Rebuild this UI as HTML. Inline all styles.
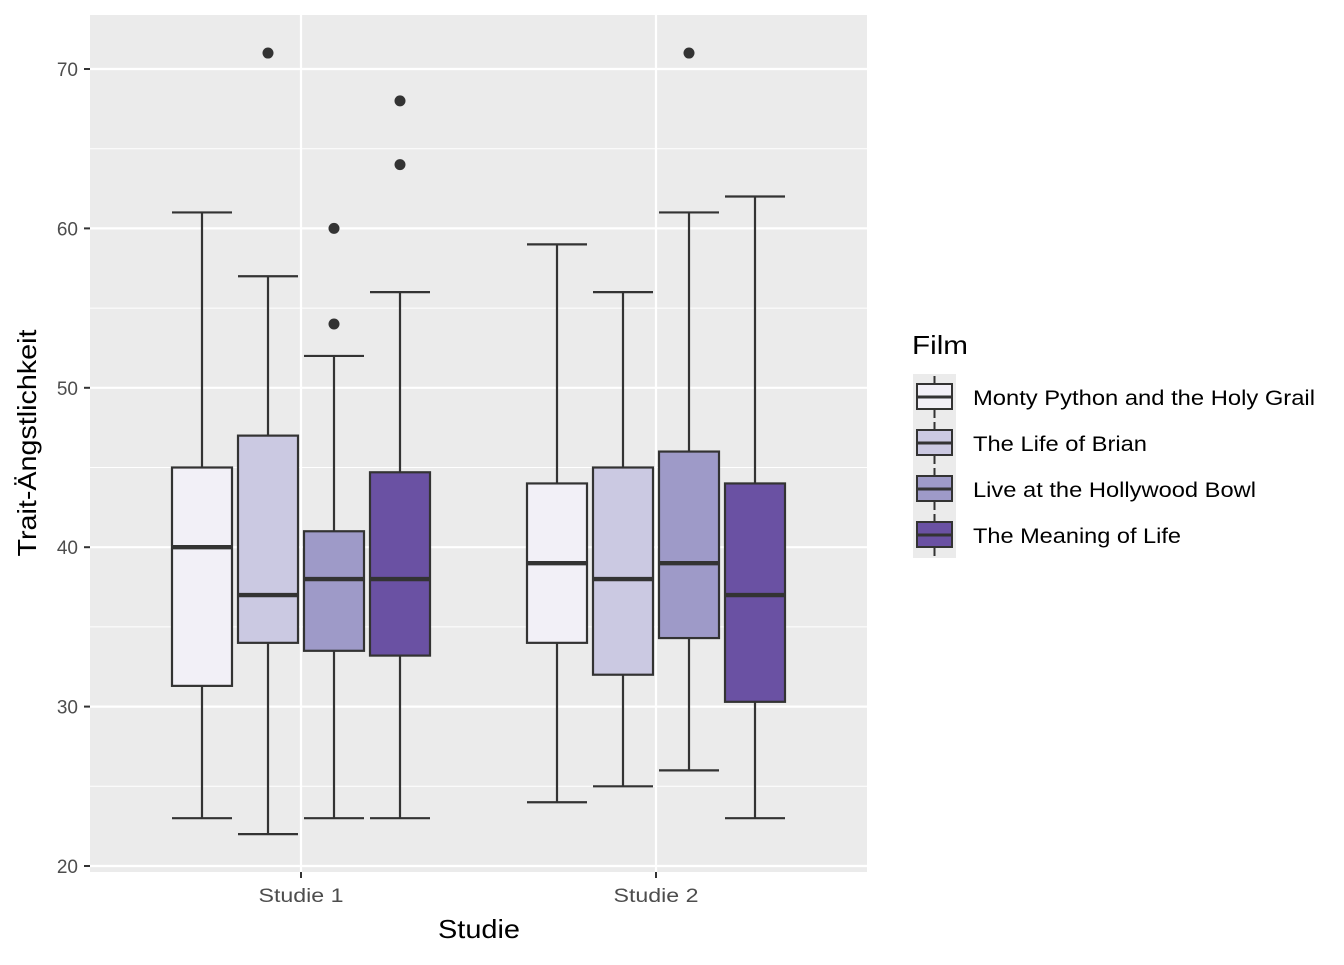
<!DOCTYPE html>
<html><head><meta charset="utf-8"><style>
body{margin:0;background:#fff;}
svg text{font-family:"Liberation Sans",sans-serif;}
</style></head><body>
<svg id="chart" width="1344" height="960" xmlns="http://www.w3.org/2000/svg">
<rect x="90" y="15" width="777" height="857" fill="#ebebeb"/>
<g id="grid"></g>
<g id="boxes"></g>
<g id="axes"></g>
<text x="479" y="938" font-size="26" text-anchor="middle" fill="#000" textLength="82" lengthAdjust="spacingAndGlyphs">Studie</text>
<text transform="translate(36,443) rotate(-90)" font-size="26" text-anchor="middle" fill="#000" textLength="227" lengthAdjust="spacingAndGlyphs">Trait-Ängstlichkeit</text>
<g id="legend"></g>
</svg>
<script>
const groups=["Studie 1","Studie 2"];
const films=["Monty Python and the Holy Grail","The Life of Brian","Live at the Hollywood Bowl","The Meaning of Life"];
const colors=["#f2f0f7","#cbc9e2","#9e9ac8","#6a51a3"];
const lowWhisker=[[23,22,23,23],[24,25,26,23]];
const q1=[[31.3,34,33.5,33.2],[34,32,34.3,30.3]];
const median=[[40,37,38,38],[39,38,39,37]];
const q3=[[45,47,41,44.7],[44,45,46,44]];
const highWhisker=[[61,57,52,56],[59,56,61,62]];
const outliers=[[[],[71],[54,60],[64,68]],[[],[],[71],[]]];
const yTicks=[20,30,40,50,60,70];
const NS="http://www.w3.org/2000/svg";
const y=v=>866-(v-20)*(866-69)/50;
const xc=i=>301+i*355;
function mk(tag,attrs,parent){const e=document.createElementNS(NS,tag);for(const k in attrs)e.setAttribute(k,attrs[k]);parent.appendChild(e);return e;}
const grid=document.getElementById('grid'),axes=document.getElementById('axes'),boxes=document.getElementById('boxes');
for(let v=25;v<=70;v+=10){const l=mk('line',{x1:90,x2:867,y1:y(v),y2:y(v),stroke:'#fff','stroke-width':1},grid);

}
yTicks.forEach(v=>{const l=mk('line',{x1:90,x2:867,y1:y(v),y2:y(v),stroke:'#fff','stroke-width':2.2},grid);


const t=mk('line',{x1:84,x2:90,y1:y(v),y2:y(v),stroke:'#333','stroke-width':2},axes);


const tx=mk('text',{x:78,y:y(v)+7,'font-size':19,'text-anchor':'end',fill:'#4d4d4d'},axes);tx.textContent=v;

});
groups.forEach((g,i)=>{const l=mk('line',{x1:xc(i),x2:xc(i),y1:15,y2:872,stroke:'#fff','stroke-width':2.2},grid);


const t=mk('line',{x1:xc(i),x2:xc(i),y1:872,y2:878,stroke:'#333','stroke-width':2},axes);


const tx=mk('text',{x:xc(i),y:902,'font-size':19,'text-anchor':'middle',fill:'#4d4d4d',textLength:85,lengthAdjust:'spacingAndGlyphs'},axes);tx.textContent=g;

});
groups.forEach((g,i)=>films.forEach((f,j)=>{
const cx=xc(i)+(j-1.5)*66,hw=30,s='#333';
const gr=mk('g',{},boxes);


mk('line',{x1:cx,x2:cx,y1:y(highWhisker[i][j]),y2:y(q3[i][j]),stroke:s,'stroke-width':2.2},gr);
mk('line',{x1:cx,x2:cx,y1:y(q1[i][j]),y2:y(lowWhisker[i][j]),stroke:s,'stroke-width':2.2},gr);
mk('line',{x1:cx-hw,x2:cx+hw,y1:y(highWhisker[i][j]),y2:y(highWhisker[i][j]),stroke:s,'stroke-width':2.2},gr);
mk('line',{x1:cx-hw,x2:cx+hw,y1:y(lowWhisker[i][j]),y2:y(lowWhisker[i][j]),stroke:s,'stroke-width':2.2},gr);
mk('rect',{x:cx-hw,y:y(q3[i][j]),width:2*hw,height:y(q1[i][j])-y(q3[i][j]),fill:colors[j],stroke:s,'stroke-width':2.2},gr);
mk('line',{x1:cx-hw,x2:cx+hw,y1:y(median[i][j]),y2:y(median[i][j]),stroke:s,'stroke-width':4.4},gr);
outliers[i][j].forEach(o=>{const c=mk('circle',{cx:cx,cy:y(o),r:5.5,fill:s},gr);

});
}));
const legendWidths=[342,174,283,208];
const lg=document.getElementById('legend');
const tt=mk('text',{x:912,y:354,'font-size':26,fill:'#000',textLength:56,lengthAdjust:'spacingAndGlyphs'},lg);tt.textContent='Film';


films.forEach((f,j)=>{const top=374+j*46;
const e=mk('g',{},lg);


mk('rect',{x:913,y:top,width:43,height:46,fill:'#ebebeb'},e);
mk('line',{x1:934.5,x2:934.5,y1:top+2,y2:top+44,stroke:'#333','stroke-width':2},e);
mk('rect',{x:917,y:top+10,width:35,height:25,fill:colors[j],stroke:'#333','stroke-width':2},e);
mk('line',{x1:917,x2:952,y1:top+23,y2:top+23,stroke:'#333','stroke-width':3},e);
const t=mk('text',{x:973,y:top+31,'font-size':21,fill:'#000',textLength:legendWidths[j],lengthAdjust:'spacingAndGlyphs'},e);t.textContent=f;});
</script>
</body></html>
